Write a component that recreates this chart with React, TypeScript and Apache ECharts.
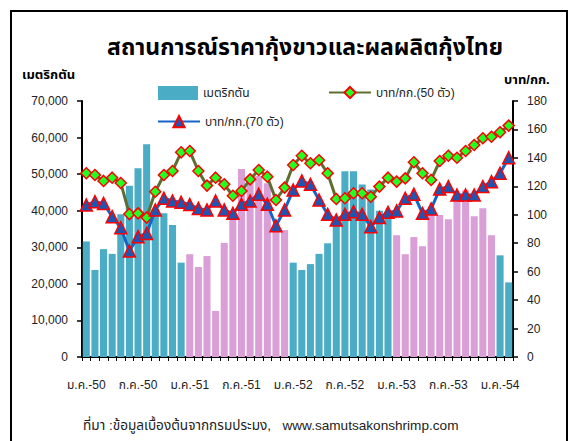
import React, { useEffect, useRef } from "react";
import * as echarts from "echarts";

const monthNames = ["ม.ค.", "ก.พ.", "มี.ค.", "เม.ย.", "พ.ค.", "มิ.ย.", "ก.ค.", "ส.ค.", "ก.ย.", "ต.ค.", "พ.ย.", "ธ.ค."];
const years = ["50", "51", "52", "53", "54"];
const monthCount = 50;

const tonnes = [
  31600, 23800, 29500, 28200, 39000, 46800, 51600, 58200, 40500, 39300, 36100, 25800,
  28100, 24600, 27600, 12600, 31200, 37900, 51400, 48500, 49500, 47500, 35500, 34700,
  25800, 23800, 25400, 28200, 31100, 36500, 50800, 50800, 47200, 45800, 40000, 39000,
  33300, 28100, 32800, 30300, 38800, 38800, 37700, 44300, 45500, 38500, 40700, 33300,
  27800, 20400,
];

const price50 = [
  129.2, 128.0, 123.8, 126.1, 122.3, 100.5, 101.0, 98.0, 116.2, 128.0, 130.8, 143.9,
  144.8, 130.8, 120.5, 126.1, 121.4, 113.4, 116.7, 124.9, 131.5, 126.8, 110.4, 119.1,
  135.0, 141.5, 136.2, 138.3, 129.2, 111.1, 111.6, 115.1, 115.1, 112.7, 119.8, 126.1,
  123.3, 125.6, 136.9, 129.2, 124.5, 137.8, 141.5, 140.1, 144.8, 149.1, 153.8, 154.9,
  158.0, 162.7,
];

const price70 = [
  106.9, 109.2, 108.0, 98.7, 90.9, 74.5, 84.6, 86.9, 103.4, 111.6, 109.7, 108.8,
  107.2, 104.5, 103.4, 109.7, 103.4, 101.0, 107.4, 109.7, 114.4, 107.4, 92.3, 103.4,
  117.4, 123.8, 121.4, 110.4, 100.3, 96.3, 100.3, 102.2, 100.3, 91.6, 98.0, 101.7,
  102.7, 111.6, 114.4, 101.0, 104.1, 118.1, 119.8, 113.9, 113.9, 113.9, 119.8, 123.3,
  129.2, 140.1,
];

const categories: string[] = [];
for (let i = 0; i < monthCount; i++) {
  categories.push(monthNames[i % 12] + "-" + years[Math.floor(i / 12)]);
}

const BLUE = "#4BACC6";
const PINK = "#DA9FD6";
const FONT = "'Liberation Sans', Arial, 'Noto Sans Thai', Tahoma, sans-serif";

export default function App() {
  const ref = useRef<HTMLDivElement>(null);
  useEffect(() => {
    if (!ref.current) return;
    const chart = echarts.init(ref.current, undefined, { renderer: "svg" });
    const barData = tonnes.map((v, i) => ({
      value: v,
      itemStyle: { color: Math.floor(i / 12) % 2 === 0 ? BLUE : PINK },
    }));
    chart.setOption({
      animation: false,
      backgroundColor: "#fff",
      textStyle: { fontFamily: FONT },
      grid: { left: 82, right: 59, top: 101, bottom: 84, containLabel: false },
      legend: [
        {
          data: [{ name: "เมตริกตัน", icon: "rect" }],
          left: 153, top: 81, itemWidth: 40, itemHeight: 14, itemGap: 8,
          textStyle: { fontFamily: FONT, fontSize: 12, color: "#222" },
        },
        {
          data: ["บาท/กก.(50 ตัว)"],
          left: 323, top: 81, itemWidth: 42, itemHeight: 14,
          textStyle: { fontFamily: FONT, fontSize: 12, color: "#222" },
        },
        {
          data: ["บาท/กก.(70 ตัว)"],
          left: 152, top: 110, itemWidth: 42, itemHeight: 14,
          textStyle: { fontFamily: FONT, fontSize: 12, color: "#222" },
        },
      ],
      xAxis: {
        type: "category",
        data: categories,
        boundaryGap: true,
        axisLine: { lineStyle: { color: "#000", width: 2 } },
        axisTick: { show: true, interval: 0, length: 4, lineStyle: { color: "#000", width: 1 } },
        axisLabel: { interval: 5, margin: 22, fontSize: 12, color: "#222", fontFamily: FONT },
        splitLine: { show: false },
      },
      yAxis: [
        {
          type: "value",
          min: 0, max: 70000, interval: 10000,
          axisLine: { show: true, lineStyle: { color: "#000", width: 2 } },
          axisTick: { show: true, length: 5, lineStyle: { color: "#000", width: 1.5 } },
          axisLabel: {
            fontSize: 12, color: "#222", margin: 14, fontFamily: FONT,
            formatter: (v: number) => v.toLocaleString("en-US"),
          },
          splitLine: { show: false },
        },
        {
          type: "value",
          min: 0, max: 180, interval: 20,
          position: "right",
          axisLine: { show: true, lineStyle: { color: "#000", width: 2 } },
          axisTick: { show: true, length: 5, lineStyle: { color: "#000", width: 1.5 } },
          axisLabel: { fontSize: 12, color: "#222", margin: 14, fontFamily: FONT },
          splitLine: { show: false },
        },
      ],
      series: [
        {
          name: "เมตริกตัน",
          type: "bar",
          data: barData,
          barCategoryGap: "18%",
          itemStyle: { color: BLUE },
          z: 1,
        },
        {
          name: "บาท/กก.(50 ตัว)",
          type: "line",
          yAxisIndex: 1,
          data: price50,
          symbol: "diamond",
          symbolSize: 11,
          showAllSymbol: true,
          lineStyle: { color: "#5E6E30", width: 3 },
          itemStyle: { color: "#22FF22", borderColor: "#FF0000", borderWidth: 1.5 },
          z: 3,
        },
        {
          name: "บาท/กก.(70 ตัว)",
          type: "line",
          yAxisIndex: 1,
          data: price70,
          symbol: "triangle",
          symbolSize: 12,
          showAllSymbol: true,
          lineStyle: { color: "#1565C8", width: 3 },
          itemStyle: { color: "#1F55B0", borderColor: "#FF0000", borderWidth: 1.5 },
          z: 4,
        },
      ],
      graphic: [
        {
          type: "rect",
          shape: { x: 11, y: 11, width: 556, height: 445 },
          style: { fill: "none", stroke: "#000", lineWidth: 2 },
          z: 10,
        },
        {
          type: "text",
          x: 305, y: 47,
          style: {
            text: "สถานการณ์ราคากุ้งขาวและผลผลิตกุ้งไทย",
            font: "bold 23px " + FONT,
            fill: "#000",
            align: "center",
            verticalAlign: "middle",
          },
        },
        {
          type: "text",
          x: 22, y: 74,
          style: { text: "เมตริกตัน", font: "bold 13px " + FONT, fill: "#000", verticalAlign: "middle" },
        },
        {
          type: "text",
          x: 504, y: 79,
          style: { text: "บาท/กก.", font: "bold 13px " + FONT, fill: "#000", verticalAlign: "middle" },
        },
        {
          type: "text",
          x: 83, y: 425,
          style: {
            text: "ที่มา :ข้อมูลเบื้องต้นจากกรมประมง,   www.samutsakonshrimp.com",
            font: "13.6px " + FONT,
            fill: "#222",
            verticalAlign: "middle",
          },
        },
      ],
    });
    return () => chart.dispose();
  }, []);
  return (
    <div
      ref={ref}
      style={{ position: "absolute", left: 0, top: 0, width: 572, height: 441 }}
    />
  );
}
